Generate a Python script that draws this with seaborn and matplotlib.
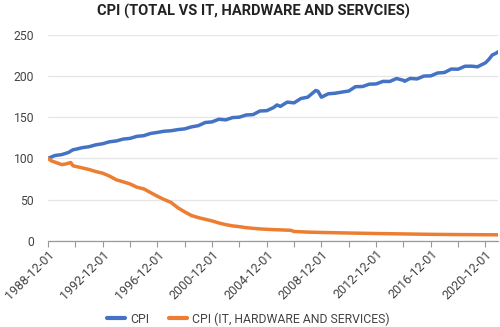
import matplotlib
matplotlib.use("Agg")
import matplotlib.pyplot as plt
import matplotlib.dates as mdates
import seaborn as sns
import pandas as pd

# ---- data ----
cpi_dates = ["1988-12-01", "1989-06-01", "1989-12-01", "1990-06-01", "1990-10-01", "1990-12-01",
             "1991-06-01", "1991-12-01", "1992-06-01", "1992-12-01", "1993-06-01", "1993-12-01",
             "1994-06-01", "1994-12-01", "1995-06-01", "1995-12-01", "1996-06-01", "1996-12-01",
             "1997-06-01", "1997-12-01", "1998-06-01", "1998-12-01", "1999-06-01", "1999-12-01",
             "2000-06-01", "2000-12-01", "2001-06-01", "2001-12-01", "2002-06-01", "2002-12-01",
             "2003-06-01", "2003-12-01", "2004-06-01", "2004-12-01", "2005-06-01", "2005-09-01",
             "2005-12-01", "2006-06-01", "2006-12-01", "2007-06-01", "2007-12-01", "2008-07-01",
             "2008-09-01", "2008-12-01", "2009-06-01", "2009-12-01", "2010-06-01", "2010-12-01",
             "2011-06-01", "2011-12-01", "2012-06-01", "2012-12-01", "2013-06-01", "2013-12-01",
             "2014-06-01", "2014-12-01", "2015-01-01", "2015-06-01", "2015-12-01", "2016-06-01",
             "2016-12-01", "2017-06-01", "2017-12-01", "2018-06-01", "2018-12-01", "2019-06-01",
             "2019-12-01", "2020-05-01", "2020-12-01", "2021-03-01", "2021-06-01", "2021-09-01",
             "2021-11-01"]
cpi_values = [100, 103.5, 104.6, 107.2, 110.5, 111,
              113, 114.2, 116.5, 117.8, 120.2, 121.2,
              123.5, 124.3, 126.8, 127.6, 130.3, 131.6,
              133, 133.6, 135, 135.9, 138.3, 139.8,
              143.6, 144.4, 147.6, 146.8, 149.6, 150.1,
              152.8, 153.2, 157.6, 158, 161.8, 165,
              163.2, 168.4, 167.5, 172.8, 174.4, 182.5,
              181.6, 174.4, 178.5, 179.2, 180.6, 181.9,
              187.2, 187.3, 190.2, 190.5, 193.6, 193.5,
              197.1, 194.9, 193.8, 197.2, 196.6, 200.1,
              200.3, 203.8, 204.4, 208.6, 208.4, 212,
              212.1, 211.3, 216.2, 220.3, 225.7, 227.6,
              229.5]

it_dates = ["1988-12-01", "1989-03-01", "1989-06-01", "1989-12-01", "1990-03-01", "1990-08-01",
            "1990-10-01", "1991-06-01", "1991-12-01", "1992-06-01", "1992-12-01", "1993-06-01",
            "1993-12-01", "1994-06-01", "1994-12-01", "1995-06-01", "1995-12-01", "1996-06-01",
            "1996-12-01", "1997-06-01", "1997-12-01", "1998-06-01", "1998-12-01", "1999-06-01",
            "1999-12-01", "2000-06-01", "2000-12-01", "2001-06-01", "2001-12-01", "2002-06-01",
            "2002-12-01", "2003-06-01", "2003-12-01", "2004-06-01", "2004-12-01", "2005-06-01",
            "2005-12-01", "2006-06-01", "2006-09-01", "2006-12-01", "2007-06-01", "2007-12-01",
            "2008-12-01", "2010-12-01", "2012-12-01", "2014-12-01", "2016-12-01", "2018-12-01",
            "2020-12-01", "2021-11-01"]
it_values = [100, 97, 95.5, 92.5, 93, 95,
             91, 88.5, 86.5, 84, 82, 78.5,
             74, 71.5, 69, 65, 63, 58.5,
             54, 50, 46.5, 40, 35, 30.5,
             28, 26, 24, 21.5, 19.5, 18,
             17, 15.8, 15, 14.3, 13.8, 13.4,
             13.1, 12.8, 12.6, 11.2, 10.8, 10.4,
             10, 9.3, 8.7, 8.2, 7.7, 7.4,
             7.2, 7.1]

series_names = ["CPI", "CPI (IT, HARDWARE AND SERVICES)"]
y_ticks = [0, 50, 100, 150, 200, 250]

df = pd.concat([
    pd.DataFrame({"date": pd.to_datetime(cpi_dates), "value": cpi_values, "series": series_names[0]}),
    pd.DataFrame({"date": pd.to_datetime(it_dates), "value": it_values, "series": series_names[1]}),
], ignore_index=True)

# ---- style ----
sns.set_style("white")
plt.rcParams["font.family"] = ["Roboto", "DejaVu Sans"]

fig, ax = plt.subplots(figsize=(5.0, 3.27), dpi=100)
fig.subplots_adjust(left=0.096, right=0.996, top=0.893, bottom=0.264)

sns.lineplot(data=df, x="date", y="value", hue="series", hue_order=series_names,
             palette=["#4472C4", "#ED7D31"], linewidth=2.5, ax=ax)

ax.set_ylim(0, 250)
ax.set_yticks(y_ticks)
ax.set_xlim(pd.Timestamp("1988-12-01"), pd.Timestamp("2021-11-01"))

major = pd.date_range("1988-12-01", "2021-12-01", freq="48MS")
minor = pd.date_range("1988-12-01", "2021-12-01", freq="24MS")
ax.set_xticks(major)
ax.set_xticks(minor, minor=True)
ax.xaxis.set_major_formatter(mdates.DateFormatter("%Y-%m-%d"))
ax.tick_params(axis="x", which="both", direction="out", length=4, width=0.8,
               color="#999999", bottom=True)
ax.tick_params(axis="x", which="major", labelsize=9, labelcolor="#444444", pad=1)
for lbl in ax.get_xticklabels():
    lbl.set_rotation(45)
    lbl.set_ha("right")
    lbl.set_rotation_mode("anchor")
ax.tick_params(axis="y", length=0, labelsize=8.7, labelcolor="#444444", pad=10)

ax.grid(axis="y", color="#e6e6e6", linewidth=0.9)
ax.set_axisbelow(True)
for s in ["left", "right", "top"]:
    ax.spines[s].set_visible(False)
ax.spines["bottom"].set_color("#999999")
ax.spines["bottom"].set_linewidth(0.9)
ax.set_xlabel("")
ax.set_ylabel("")

leg = ax.legend(loc="center", bbox_to_anchor=(0.497, 1 - 319 / 327), bbox_transform=fig.transFigure,
                ncol=2, frameon=False, fontsize=8.8, handlelength=1.5, handletextpad=0.4,
                columnspacing=1.6)
for line in leg.get_lines():
    line.set_linewidth(3)
for t in leg.get_texts():
    t.set_color("#444444")

fig.text(0.506, 1 - 11 / 327, "CPI (TOTAL VS IT, HARDWARE AND SERVCIES)", ha="center", va="center",
         fontsize=10.5, fontweight="bold", color="#222222")

fig.savefig("out.png", dpi=100)
